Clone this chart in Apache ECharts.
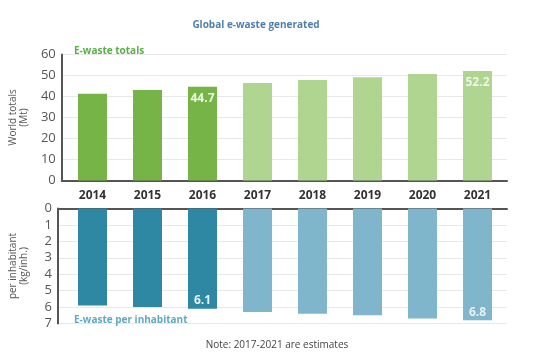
<!DOCTYPE html>
<html><head><meta charset="utf-8">
<script src="https://cdn.jsdelivr.net/npm/echarts@6/dist/echarts.min.js"></script>
<style>html,body{margin:0;padding:0;background:#fff}#c{width:550px;height:357px}</style>
</head><body><div id="c"></div>
<script>
const years = ['2014','2015','2016','2017','2018','2019','2020','2021'];
const totalsMt = [41.3, 43.1, 44.7, 46.4, 47.8, 49.2, 50.7, 52.2];
const perInhabitantKg = [5.9, 6.0, 6.1, 6.3, 6.4, 6.5, 6.7, 6.8];
const estimateFromIndex = 3;
const labeledIdx = [2, 7];
const topTicks = {min: 0, max: 60, interval: 10};
const bottomTicks = {min: 0, max: 7, interval: 1};

const FONT = 'Open Sans';
const greenDark = '#76b448', greenLight = '#afd590';
const tealDark = '#2e87a3', tealLight = '#7fb6cb';

const chart = echarts.init(document.getElementById('c'), null, {renderer: 'canvas'});

const topGrid = {left: 65, right: 45, top: 54.5, height: 126};
const botGrid = {left: 65, right: 45, top: 208.5, height: 115};
const topDeco = {left: 50, right: 43, top: 54.5, height: 126};
const botDeco = {left: 50, right: 43, top: 208.5, height: 115};

function mkData(vals, dark, light, pos, dist, txtColor) {
  return vals.map((v, i) => ({
    value: v,
    itemStyle: {color: i < estimateFromIndex ? dark : light},
    label: {show: labeledIdx.includes(i), position: pos, distance: dist,
      color: txtColor, fontFamily: FONT, fontSize: 12, fontWeight: 'bold'}
  }));
}

chart.setOption({
  animation: false,
  textStyle: {fontFamily: FONT},
  title: [
    {text: 'Global e-waste generated', left: 256, top: 20, textAlign: 'center', padding: 0,
      textStyle: {fontFamily: FONT, fontSize: 10, fontWeight: 'bold', color: '#4f7fad'}},
    {text: 'E-waste totals', left: 74, top: 46, padding: 0,
      textStyle: {fontFamily: FONT, fontSize: 10, fontWeight: 'bold', color: '#5cae4a'}},
    {text: 'E-waste per inhabitant', left: 74, top: 315, padding: 0,
      textStyle: {fontFamily: FONT, fontSize: 10, fontWeight: 'bold', color: '#62a8c0'}},
    {text: 'Note: 2017-2021 are estimates', left: 277, top: 340, textAlign: 'center', padding: 0,
      textStyle: {fontFamily: FONT, fontSize: 10, fontWeight: 'normal', color: '#444'}}
  ],
  grid: [topGrid, botGrid, topDeco, botDeco],
  xAxis: [
    {type: 'category', gridIndex: 0, data: years, position: 'bottom',
      axisLine: {show: false}, axisTick: {show: false},
      axisLabel: {margin: 9, fontFamily: FONT, fontSize: 12, fontWeight: 'bold', color: '#333'}},
    {type: 'category', gridIndex: 1, data: years, position: 'top',
      axisLine: {show: false}, axisTick: {show: false}, axisLabel: {show: false}},
    {type: 'value', gridIndex: 2, min: 0, max: 1, position: 'bottom',
      axisLine: {show: true, lineStyle: {color: '#555', width: 2}}, axisTick: {show: false},
      axisLabel: {show: false}, splitLine: {show: false}},
    {type: 'value', gridIndex: 3, min: 0, max: 1, position: 'top',
      axisLine: {show: true, lineStyle: {color: '#555', width: 2}}, axisTick: {show: false},
      axisLabel: {show: false}, splitLine: {show: false}}
  ],
  yAxis: [
    {type: 'value', gridIndex: 0, ...topTicks, show: false, splitLine: {show: false}},
    {type: 'value', gridIndex: 1, ...bottomTicks, inverse: true, show: false, splitLine: {show: false}},
    {type: 'value', gridIndex: 2, ...topTicks,
      name: 'World totals\n(Mt)', nameLocation: 'middle', nameGap: 28, nameRotate: 90,
      nameTextStyle: {fontFamily: FONT, fontSize: 10, color: '#555', lineHeight: 11},
      axisLine: {show: true, lineStyle: {color: '#555', width: 2}}, axisTick: {show: false},
      axisLabel: {margin: 6, fontFamily: FONT, fontSize: 13, color: '#555'},
      splitLine: {show: true, lineStyle: {color: '#e8e8e8', width: 1}}},
    {type: 'value', gridIndex: 3, ...bottomTicks, inverse: true,
      name: 'per inhabitant\n(kg/inh.)', nameLocation: 'middle', nameGap: 28, nameRotate: 90,
      nameTextStyle: {fontFamily: FONT, fontSize: 10, color: '#555', lineHeight: 11},
      axisLine: {show: true, lineStyle: {color: '#555', width: 2}}, axisTick: {show: false},
      axisLabel: {margin: 6, fontFamily: FONT, fontSize: 13, color: '#555'},
      splitLine: {show: true, lineStyle: {color: '#e8e8e8', width: 1}}}
  ],
  series: [
    {type: 'bar', xAxisIndex: 0, yAxisIndex: 0, barWidth: 29, z: 3,
      data: mkData(totalsMt, greenDark, greenLight, 'insideTop', 6, '#eef6e8')},
    {type: 'bar', xAxisIndex: 1, yAxisIndex: 1, barWidth: 29, z: 3,
      data: mkData(perInhabitantKg, tealDark, tealLight, 'insideBottom', 2, '#e6f1f5')}
  ]
});
</script></body></html>
